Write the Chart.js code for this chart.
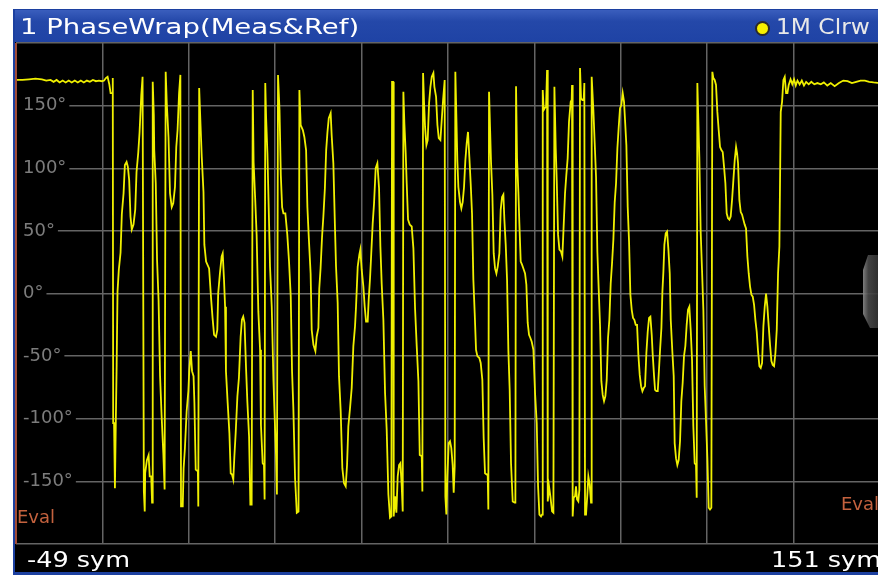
<!DOCTYPE html>
<html lang="en">

<head>
  <meta charset="UTF-8" />
  <title>1 PhaseWrap(Meas&amp;Ref)</title>
  <script src="https://cdn.jsdelivr.net/npm/chart.js"></script>
  <style>
    html, body { margin: 0; padding: 0; background: #fff; }
    body { width: 878px; height: 575px; overflow: hidden; position: relative; font-family: "DejaVu Sans", sans-serif; }
    .frame { position: absolute; left: 13px; top: 9px; width: 870px; height: 566px; background: #1c40a0; }
    .titlebar { position: absolute; left: 15px; top: 10px; width: 868px; height: 32px; background: linear-gradient(#3a5ebd, #2448a9 35%, #1f43a5); }
    .screen { position: absolute; left: 15px; top: 42px; width: 868px; height: 530px; background: #000; }
    #chart { position: absolute; left: 0; top: 0; }
    .txt { position: absolute; white-space: nowrap; line-height: 22px; font-size: 22px; transform-origin: left center; }
    .evalline { position: absolute; left: 15px; top: 43px; width: 2px; height: 501px; background: #a24c36; }
    .eval { position: absolute; font-size: 18px; line-height: 18px; color: #c4623e; }
    .dot { position: absolute; left: 755px; top: 21px; width: 11px; height: 11px; border-radius: 50%; background: #f6f000; border: 2px solid #2a2a2a; }
    .handle { position: absolute; left: 863px; top: 255px; width: 18px; height: 73px;
      background: linear-gradient(90deg, #8a8a8a, #4a4a4a 30%, #2e2e2e);
      clip-path: polygon(5px 0, 100% 0, 100% 100%, 7px 100%, 0 calc(100% - 14px), 0 15px); opacity: 0.9; }
  </style>
</head>

<body>
  <div class="frame"></div>
  <div class="titlebar"></div>
  <div class="screen"></div>
  <canvas id="chart" width="884" height="575"></canvas>
  <div class="evalline"></div>

  <!-- Barra de título -->
  <div class="txt" style="left:20px; top:16px; color:#fff; transform:scaleX(1.25);">1 PhaseWrap(Meas&amp;Ref)</div>
  <div class="dot"></div>
  <div class="txt" style="left:776px; top:16px; color:#e8e8e8; transform:scaleX(1.06);">1M Clrw</div>

  <!-- Marcadores Eval -->
  <div class="eval" style="left:17px; top:508px;">Eval</div>
  <div class="eval" style="left:841px; top:495px;">Eval</div>
  <div class="handle"></div>

  <!-- Barra inferior -->
  <div class="txt" style="left:27px; top:549px; color:#fff; transform:scaleX(1.16);">-49 sym</div>
  <div class="txt" style="left:771px; top:549px; color:#fff; transform:scaleX(1.16);">151 sym</div>

  <script>
    // eixo x: símbolos, eixo y: fase (graus)
    const xGrid = [-49, -29, -9, 11, 31, 51, 71, 91, 111, 131, 151];
    const yGrid = [-200, -150, -100, -50, 0, 50, 100, 150, 200];

    const symbols = [
      -49, -47.5, -46, -44.5, -43, -42, -41, -40.3, -39.6, -38.9,
      -38.2, -37.5, -36.8, -36.1, -35.4, -34.7, -34, -33.3, -32.6, -31.9,
      -31.2, -30.5, -29.8, -29.1, -28.6,
      -28.2, -27.8, -27.4, -27.1, -26.7, -26.6, -26.5, -26.3, -26.1, -25.9,
      -25.7, -25.5, -25.2, -24.8, -24.5, -24.1, -23.8, -23.4, -23.1, -22.8,
      -22.5, -22.2, -21.8, -21.4, -21.1, -20.7, -20.4, -20, -19.7, -19.4,
      -19.2, -19.1, -18.7, -18.3, -18.05, -17.7, -17.5, -17.35, -17.1, -17,
      -16.65, -16.35, -16, -15.65, -15.3, -14.9, -14.6, -14.35, -14.1, -13.7,
      -13.35, -12.95, -12.6, -12.2, -11.9, -11.6, -11.25, -10.95, -10.8, -10.4,
      -10.2, -9.9, -9.5, -9.1, -8.9, -8.55, -8.25, -7.9, -7.7, -7.4,
      -6.9, -6.8, -6.6, -6.3, -6, -5.6, -5.4, -5, -4.3, -3.85, -3.5, -3.15,
      -2.7, -2.4, -2.2, -1.8, -1.4, -1.15, -0.85, -0.6, -0.4, 0,
      0.4, 0.7, 1, 1.3, 1.55, 1.85, 2.25, 2.6, 3, 3.3,
      3.6, 3.9, 4.25, 4.55, 4.95, 5.25, 5.55, 5.8, 6, 6.35,
      6.7, 7.1, 7.5, 7.7, 8.1, 8.4, 8.55, 8.7, 8.9, 9.2,
      9.6, 9.8, 10.2, 10.6, 10.9, 11.2, 11.4, 11.65, 12, 12.3,
      12.6, 12.9, 13.35, 13.8, 14.2, 14.6, 14.9, 15.2, 15.6, 16,
      16.4, 16.6, 16.9, 17.4, 17.75, 18.15, 18.45, 18.8, 19.2, 19.45,
      19.85, 20.3, 20.6, 21, 21.2, 21.5, 21.85, 22.15, 22.5, 22.8, 23.1, 23.4,
      23.84, 24.07, 24.46, 24.85, 25.08, 25.46, 25.77, 26.16, 26.54, 26.93,
      27.32, 27.63, 27.93, 28.32, 28.71, 29.09, 29.48, 29.71, 30.1, 30.48,
      30.71, 31.02, 31.41, 31.72, 32.03, 32.41, 32.64, 32.95, 33.18, 33.57,
      33.88, 34.26, 34.65, 35.04, 35.35, 35.65, 36.04, 36.43, 36.81, 37.2,
      37.58, 37.89, 38.05, 38.28, 38.43, 38.74, 39.05, 39.36, 39.67, 39.98,
      40.29, 40.52, 40.67, 40.9, 41.21, 41.44, 41.75, 42.14, 42.6, 42.99,
      43.37, 43.76, 44.15, 44.46, 44.92, 45.07, 45.23, 45.46, 45.69, 46,
      46.3, 46.62, 46.93, 47.24, 47.62, 47.85, 48.24, 48.55, 48.86, 49.24, 49.55, 49.86,
      50.23, 50.39, 50.62, 50.85, 51.16, 51.47, 51.77, 52.08, 52.32, 52.55,
      52.7, 52.86, 53.16, 53.4, 53.78, 54.09, 54.4, 54.71, 55.02, 55.33,
      55.63, 55.94, 56.25, 56.56, 56.87, 57.18, 57.49, 57.8, 58.26, 58.57,
      58.95, 59.26, 59.57, 59.96, 60.19, 60.34, 60.5, 60.73, 60.96, 61.27,
      61.58, 61.89, 62.2, 62.51, 62.89, 63.2, 63.51, 63.82, 64.05, 64.36,
      64.67, 64.98, 65.28, 65.59, 65.98, 66.44, 66.6, 66.75, 66.98, 67.29,
      67.52, 67.83, 68.14, 68.45, 68.84, 69.14, 69.45, 69.76, 70.07, 70.38,
      70.77, 71.15, 71.54, 71.85, 72.16, 72.54, 72.77, 72.93, 73.16, 73.39,
      73.7, 73.93, 74.09, 74.39, 74.7, 75.09, 75.4, 75.63, 75.94, 76.17, 76.48, 76.79,
      77.16, 77.47, 77.7, 78.09, 78.39, 78.7, 79.01, 79.4, 79.63, 79.71,
      79.86, 80.09, 80.4, 80.63, 80.87, 81.17, 81.41, 81.56, 81.79, 82.1,
      82.41, 82.56, 82.72, 82.95, 83.26, 83.49, 83.8, 84.11, 84.26, 84.65,
      84.96, 85.27, 85.57, 85.88, 86.19, 86.5, 86.81, 87.12, 87.43, 87.74,
      88.04, 88.35, 88.66, 88.97, 89.28, 89.59, 89.9, 90.21, 90.52, 90.82,
      91.13, 91.44, 91.75, 91.98, 92.29, 92.6, 92.91, 93.22, 93.53, 93.83,
      94.14, 94.45, 94.76, 95.07, 95.38, 95.69, 96, 96.3, 96.61, 96.92,
      97.23, 97.54, 97.85, 98.16, 98.39, 98.7, 98.93, 99.24, 99.55, 99.86,
      100.09, 100.4, 100.63, 100.86, 101.09, 101.4, 101.71, 102.02, 102.33, 102.56, 102.95, 103.25,
      103.47, 103.78, 104.09, 104.4, 104.71, 105.01, 105.32, 105.63, 105.94, 106.25,
      106.56, 106.87, 107.18, 107.49, 107.79, 108.1, 108.41, 108.57, 108.72, 108.95,
      109.18, 109.49, 109.8, 110.11, 110.42, 110.73, 111.04, 111.35, 111.65, 111.96,
      112.19, 112.43, 112.73, 113.04, 113.35, 113.66, 113.97, 114.28, 114.59, 114.9,
      115.21, 115.51, 115.82, 116.13, 116.44, 116.75, 117.06, 117.37, 117.68, 117.91,
      118.14, 118.45, 118.76, 119.07, 119.37, 119.68, 119.99, 120.3, 120.61, 120.92,
      121.23, 121.54, 121.85, 122.15, 122.46, 122.77, 123.08, 123.39, 123.7, 124.01,
      124.32, 124.62, 124.93, 125.24, 125.55, 125.86, 126.17, 126.48, 126.79, 127.1,
      127.4, 127.71, 128.02, 128.33, 128.64, 128.95, 129.26, 129.57, 129.87,
      130.3, 130.7, 131.1, 131.5, 131.9, 132.4, 132.9, 133.4, 133.9, 134.5,
      135.1, 135.8, 136.5, 137.3, 138, 138.8, 139.6, 140.5, 141.5, 142.5,
      143.5, 144.5, 145.5, 146.5, 147.5, 148.5, 149.5, 151
    ];

    const phaseDeg = [
      170.5, 170.5, 171, 171.5, 171, 170, 170.5, 169, 170.5, 168.5,
      170, 168.5, 170, 168.5, 170, 168.5, 170, 168.5, 170, 169,
      170.5, 169.5, 170, 169.5, 170,
      172, 173, 167, 160, 160, 172, -103.5, -103.5, -155.5, -103.5,
      -57, 1.5, 19, 32.5, 63.5, 80, 102.5, 105, 101, 90.5,
      61.5, 51, 55, 67, 97, 112.5, 128.5, 158.5, 173, -158,
      -174, -143.5, -133, -129, -146, -146, -167, 169, 142.5, 114.5,
      88, 27, -5, -66, -97, -127.5, -156.5, 177, 152, 125,
      80, 69, 72, 85, 117, 130.5, 160, 174.5, -170, -170,
      -139.5, -123.5, -94, -78, -62, -46, -62, -66, -87.5, -140.5,
      -142, -170, 164, 136, 109, 81, 39, 25.5, 20, -3.5, -19.5, -33,
      -34.5, -29, 0, 16, 29.5, 32, 11, -10.5, -62, -87.5,
      -111.5, -143.5, -144.5, -148.5, -130, -111.5, -82, -67.5, -34.5, -21,
      -18.5, -23.5, -59.5, -86, -114, -168.5, -168.5, 162.5, 105, 77,
      47, -14.5, -45, -105, -135.5, -137, -164.5, 168, 140, 112,
      53.5, 21.5, -10.5, -70, -101, -130, -160.5, 174.5, 146.5, 94.5,
      69, 64, 64, 47, 25.5, -2.5, -62, -91.5, -147.5, -175,
      -174, 162.5, 134.5, 130.5, 125, 114.5, 69, 43, 16, -29,
      -41, -46, -34.5, -27.5, 4, 20, 45.5, 61.5, 84, 114.5, 129, 140,
      144, 126.5, 104, 51, 21.5, -7.5, -66, -94, -139.5, -151.5,
      -154, -137, -106, -91.5, -75.5, -42, -26, -10.5, 21.5, 31,
      35, 19, 5.5, -10.5, -22.5, -22.5, -5, 12, 28, 56,
      72, 100, 104, 84, 37.5, 8, -21, -79.5, -109, -160.5,
      -179, -178, 169, 169, -178, -162, -175, -146, -137, -135.5,
      -154, -174, 161, 136, 112, 88, 59, 55, 53.5, 36,
      -11.5, -42, -70, -129, -130, -158, 176, 152, 133, 118.5,
      122.5, 152, 165, 173, 176, 165, 157, 134.5, 124, 122.5, 138.5, 154.5,
      170.5, -162, -176.5, -146, -119.5, -118, -123.5, -137, -159, -138,
      177, 153, 106.5, 85, 73, 68, 73, 85, 106.5, 120,
      129, 109, 88, 64, 11, -15.5, -45, -50, -51.5, -55.5,
      -69, -115.5, -143.5, -144.5, -144.5, -172.5, 161, 133, 105, 79,
      32, 20, 16, 21.5, 32, 67, 77, 79, 59, 39,
      11, -46, -77, -135.5, -166, -167, -167, 165.5, 108, 81,
      56, 25.5, 23, 20, 16, 7, -23.5, -33, -35.5, -38.5,
      -45, -79.5, -103.5, -154, -176.5, -178, -176.5, 162.5, 146.5, 148,
      149, 178.5, -166, -154, -162, -174, -175, 165, 116, 90.5, 47, 35,
      33.5, 29.5, 48, 80, 94.5, 108, 137, 153, 154.5, 166.5,
      -178, -163, -162, -154, -164.5, -166, -156.5, 180, 156, 154.5,
      154.5, 168, -176.5, -176.5, -160.5, -146, -152.5, -167, 173, 146.5,
      120, 93, 33.5, 4, -25, -70, -81, -86, -82, -69,
      -35.5, -21, 8, 24, 43, 73, 88, 116, 133, 148,
      150.5, 160, 153, 138.5, 118.5, 69, 41.5, -1, -13, -19.5,
      -21, -25, -25, -49, -65, -74, -78, -75.5, -74, -47.5,
      -30.5, -19.5, -18.5, -33, -49, -66, -77, -78, -78, -59.5,
      -45, -27.5, 1.5, 17.5, 39, 48, 49.5, 35, 16, -21, -47.5, -66,
      -119.5, -131.5, -137, -133, -118, -86, -71.5, -50, -42, -25,
      -13, -10.5, -29, -53, -106, -135.5, -137, -163, 168, 138.5,
      109, 49.5, 19, -13, -74, -102, -131.5, -171, -172.5, -171,
      177, 172, 170.5, 166.5, 145, 130.5, 117, 114.5, 113, 101,
      88, 64, 60, 59, 61.5, 74.5, 90.5, 106.5, 117, 112,
      104, 74.5, 65, 63, 59, 55, 52, 29.5, 16, 5.5,
      -1, -2.5, -9, -21, -30.5, -46, -58, -59.5, -55.5, -26,
      -10.5, 0, -10.5, -26, -41, -54, -57, -58, -47.5, -29,
      16, 37.5, 145, 153, 170.5, 173, 160, 160, 166.5,
      171, 167, 171, 166, 170, 167, 170, 166, 169, 167,
      169, 167, 168, 167, 168.5, 166, 168, 165.5, 168, 170,
      169.5, 168, 169, 170, 170, 169, 168.5, 168
    ];

    const gridStyle = { color: '#646464', lineWidth: 1.5, drawTicks: false };

    new Chart(document.getElementById('chart'), {
      type: 'line',
      data: {
        datasets: [{
          data: symbols.map((s, i) => ({ x: s, y: phaseDeg[i] })),
          borderColor: '#f0f000',
          borderWidth: 1.8,
          pointRadius: 0,
          tension: 0,
          fill: false
        }]
      },
      options: {
        responsive: false,
        animation: false,
        devicePixelRatio: 1,
        layout: { padding: { left: 16, top: 43, right: 4, bottom: 31 } },
        plugins: { legend: { display: false }, tooltip: { enabled: false } },
        scales: {
          x: {
            type: 'linear', min: -49, max: 151,
            afterBuildTicks: (scale) => { scale.ticks = xGrid.map(v => ({ value: v })); },
            afterFit: (scale) => { scale.height = 0; },
            ticks: { display: false },
            grid: gridStyle,
            border: { display: false }
          },
          y: {
            min: -200, max: 200,
            afterBuildTicks: (scale) => { scale.ticks = yGrid.map(v => ({ value: v })); },
            afterFit: (scale) => { scale.width = 0; },
            ticks: {
              mirror: true,
              padding: 7,
              color: '#7c7c7c',
              font: { family: 'DejaVu Sans', size: 18 },
              callback: (v) => (Math.abs(v) >= 200 ? '' : v + '°'),
              showLabelBackdrop: (ctx) => Math.abs(ctx.tick.value) < 200,
              backdropColor: '#000',
              backdropPadding: { left: 7, right: 3, top: 0, bottom: 0 }
            },
            grid: gridStyle,
            border: { display: false }
          }
        }
      }
    });
  </script>
</body>

</html>
